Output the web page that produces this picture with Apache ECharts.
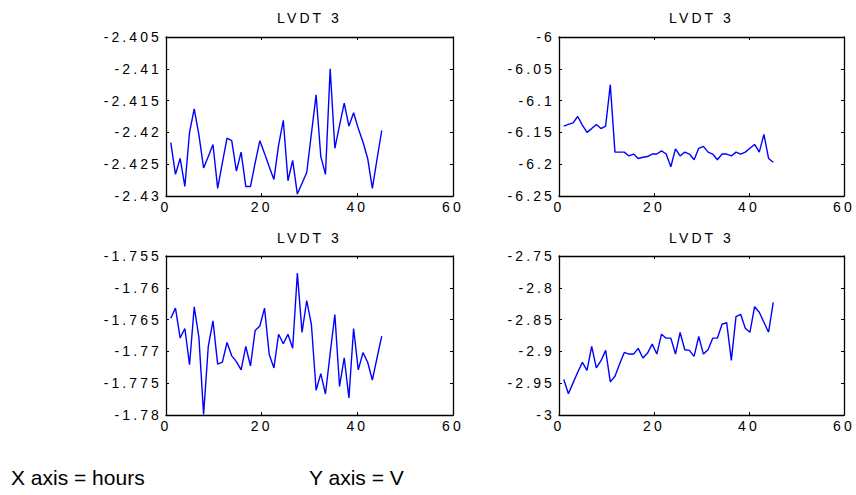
<!DOCTYPE html>
<html>
<head>
<meta charset="utf-8">
<script src="https://cdn.jsdelivr.net/npm/echarts@6/dist/echarts.min.js"></script>
<style>
  html, body { margin: 0; padding: 0; background: #fff; }
  #main { position: absolute; left: 0; top: 0; width: 856px; height: 495px; letter-spacing: 3.1px; }
  #foot { position: absolute; left: 0; top: 455px; width: 856px; height: 40px; letter-spacing: 0; pointer-events: none; }
</style>
</head>
<body>
<div id="main"></div>
<div id="foot"></div>
<script>
// Time in hours for each sample
var hours = [1.00, 1.98, 2.96, 3.94, 4.92, 5.90, 6.88, 7.86, 8.84, 9.82,
  10.80, 11.78, 12.76, 13.74, 14.72, 15.70, 16.68, 17.66, 18.64, 19.62,
  20.60, 21.58, 22.56, 23.54, 24.52, 25.50, 26.48, 27.46, 28.44, 29.42,
  30.40, 31.38, 32.36, 33.34, 34.32, 35.30, 36.28, 37.26, 38.24, 39.22,
  40.20, 41.18, 42.16, 43.14, 44.12, 45.10];

var panelTitles = ['LVDT 3', 'LVDT 3', 'LVDT 3', 'LVDT 3'];

// Top-left panel (V)
var lvdtTopLeft = [-2.4216,-2.4266,-2.4241,-2.4285,-2.4200,-2.4163,-2.4204,-2.4256,-2.4238,-2.4219,
  -2.4288,-2.4248,-2.4209,-2.4213,-2.4261,-2.4231,-2.4285,-2.4285,-2.4248,-2.4213,
  -2.4233,-2.4254,-2.4274,-2.4220,-2.4181,-2.4276,-2.4244,-2.4297,-2.4280,-2.4263,
  -2.4202,-2.4141,-2.4238,-2.4266,-2.4100,-2.4225,-2.4189,-2.4154,-2.4190,-2.4169,
  -2.4194,-2.4215,-2.4241,-2.4288,-2.4242,-2.4197];

// Top-right panel (V)
var lvdtTopRight = [-6.140,-6.1375,-6.135,-6.125,-6.1385,-6.150,-6.144,-6.1375,-6.144,-6.140,
  -6.075,-6.181,-6.181,-6.181,-6.187,-6.184,-6.191,-6.189,-6.188,-6.184,
  -6.184,-6.179,-6.184,-6.204,-6.176,-6.187,-6.181,-6.184,-6.193,-6.175,
  -6.172,-6.181,-6.184,-6.193,-6.184,-6.184,-6.187,-6.181,-6.184,-6.181,
  -6.175,-6.169,-6.181,-6.153,-6.191,-6.197];

// Bottom-left panel (V)
var lvdtBottomLeft = [-1.7648,-1.7632,-1.7679,-1.7664,-1.7721,-1.7630,-1.7678,-1.7799,-1.7692,-1.7652,
  -1.7720,-1.7717,-1.7686,-1.7707,-1.7716,-1.7729,-1.7692,-1.7723,-1.7667,-1.7660,
  -1.7632,-1.7705,-1.7726,-1.7673,-1.7688,-1.7673,-1.7695,-1.7577,-1.7670,-1.7620,
  -1.7658,-1.7761,-1.7735,-1.7767,-1.7703,-1.7642,-1.7755,-1.7710,-1.7773,-1.7664,
  -1.7729,-1.7702,-1.7717,-1.7745,-1.7710,-1.7676];

// Bottom-right panel (V)
var lvdtBottomRight = [-2.9443,-2.9667,-2.9495,-2.9328,-2.9172,-2.9297,-2.8922,-2.9260,-2.9146,-2.8984,
  -2.9479,-2.9391,-2.9198,-2.9016,-2.9042,-2.9042,-2.8953,-2.9104,-2.9026,-2.8885,
  -2.9042,-2.8729,-2.8792,-2.8792,-2.9042,-2.8703,-2.8974,-2.8984,-2.9078,-2.8766,
  -2.9042,-2.8974,-2.8792,-2.8792,-2.8573,-2.8547,-2.9141,-2.8453,-2.8417,-2.8635,
  -2.8698,-2.8297,-2.8385,-2.8542,-2.8698,-2.8229];

// Axis ranges
var xRange = { min: 0, max: 60, interval: 20 };
var yRanges = [
  { min: -2.43, max: -2.405, interval: 0.005 },
  { min: -6.25, max: -6.0, interval: 0.05 },
  { min: -1.78, max: -1.755, interval: 0.005 },
  { min: -3.0, max: -2.75, interval: 0.05 }
];

var footerLeft = 'X axis = hours';
var footerRight = 'Y axis = V';

var seriesData = [lvdtTopLeft, lvdtTopRight, lvdtBottomLeft, lvdtBottomRight];

var grids = [
  { left: 166, top: 37, width: 287, height: 159 },
  { left: 559, top: 37, width: 285, height: 159 },
  { left: 166, top: 256, width: 287, height: 159 },
  { left: 559, top: 256, width: 285, height: 159 }
];

var FONT = 'Liberation Sans, Arial, sans-serif';
var axisLine = { show: true, onZero: false, lineStyle: { color: '#000', width: 1.3 } };
var tick = { show: true, inside: true, length: 3, lineStyle: { color: '#000', width: 1 } };
var label = { color: '#000', fontSize: 14, fontFamily: FONT };

var xAxes = [], yAxes = [], series = [], titles = [];
grids.forEach(function (g, i) {
  xAxes.push({ type: 'value', gridIndex: i, position: 'bottom', min: xRange.min, max: xRange.max, interval: xRange.interval,
    axisLine: axisLine, axisTick: tick, splitLine: { show: false },
    axisLabel: Object.assign({ margin: 4 }, label) });
  xAxes.push({ type: 'value', gridIndex: i, position: 'top', min: xRange.min, max: xRange.max, interval: xRange.interval,
    axisLine: axisLine, axisTick: tick, splitLine: { show: false }, axisLabel: { show: false } });
  var yr = yRanges[i];
  yAxes.push({ type: 'value', gridIndex: i, position: 'left', min: yr.min, max: yr.max, interval: yr.interval,
    axisLine: axisLine, axisTick: tick, splitLine: { show: false },
    axisLabel: Object.assign({ margin: 4 }, label) });
  yAxes.push({ type: 'value', gridIndex: i, position: 'right', min: yr.min, max: yr.max, interval: yr.interval,
    axisLine: axisLine, axisTick: tick, splitLine: { show: false }, axisLabel: { show: false } });
  series.push({
    type: 'line', xAxisIndex: i * 2, yAxisIndex: i * 2, showSymbol: false, symbol: 'none',
    lineStyle: { color: '#0000ff', width: 1.4 }, itemStyle: { color: '#0000ff' },
    data: hours.map(function (h, k) { return [h, seriesData[i][k]]; })
  });
  titles.push({ text: panelTitles[i], left: g.left + g.width / 2, top: i < 2 ? 11 : 231, textAlign: 'center', padding: 0,
    textStyle: { fontSize: 14, fontWeight: 'normal', fontFamily: FONT, color: '#000' } });
});

var chart = echarts.init(document.getElementById('main'), null, { renderer: 'svg', width: 856, height: 495 });
chart.setOption({
  backgroundColor: '#fff',
  animation: false,
  title: titles,
  grid: grids.map(function (g) { return Object.assign({ containLabel: false }, g); }),
  xAxis: xAxes,
  yAxis: yAxes,
  series: series
});

var foot = echarts.init(document.getElementById('foot'), null, { renderer: 'svg', width: 856, height: 40 });
foot.setOption({
  animation: false,
  title: [
    { text: footerLeft, left: 11, top: 12, padding: 0, textStyle: { fontSize: 21, fontWeight: 'normal', fontFamily: FONT, color: '#000' } },
    { text: footerRight, left: 309, top: 12, padding: 0, textStyle: { fontSize: 21, fontWeight: 'normal', fontFamily: FONT, color: '#000' } }
  ]
});
</script>
</body>
</html>
